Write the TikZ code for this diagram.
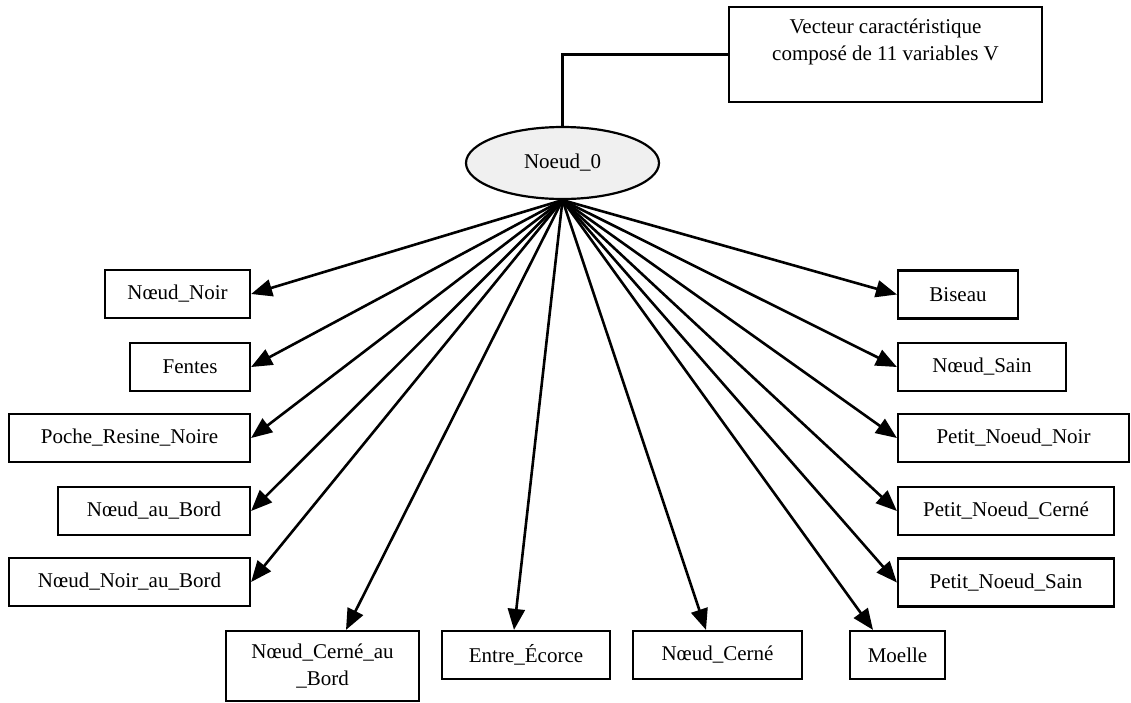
\documentclass[tikz,border=0pt]{standalone}
\usepackage{fontspec}
\setmainfont{Liberation Serif}
\usetikzlibrary{arrows.meta,shapes.geometric}
\begin{document}
\begin{tikzpicture}[x=1pt,y=-1pt,
  every node/.style={font=\fontsize{21}{27}\selectfont, inner sep=0pt},
  cat/.style={draw, line width=2.2pt, minimum height=48pt, align=center},
  root/.style={ellipse, draw, line width=2.2pt, fill=black!6,
               minimum width=193pt, minimum height=72pt},
  link/.style={line width=2.6pt, -{Triangle[length=21pt,width=17pt]}},
  plain/.style={line width=2.2pt}]
\useasboundingbox (0,0) rectangle (1131,702);

% descriptor box and root node
\node[cat, minimum width=313pt, minimum height=95pt] (vec) at (885.5,54.5)
  {Vecteur caractéristique\\composé de 11 variables V\\[2pt]~};
\node[root] (n0) at (562.5,163) {Noeud\_0};
\draw[plain] (n0.north) |- (vec.west);

% left column
\node[cat, minimum width=145pt] (nn)   at (177.5,294) {Nœud\_Noir};
\node[cat, minimum width=120pt] (fe)   at (190,367)   {Fentes};
\node[cat, minimum width=241pt] (prn)  at (129.5,438) {Poche\_Resine\_Noire};
\node[cat, minimum width=192pt] (nab)  at (154,511)   {Nœud\_au\_Bord};
\node[cat, minimum width=241pt] (nnab) at (129.5,582) {Nœud\_Noir\_au\_Bord};

% bottom row
\node[cat, minimum width=193pt, minimum height=70pt] (ncab) at (322.5,666)
  {Nœud\_Cerné\_au\\\_Bord};
\node[cat, minimum width=168pt] (ee) at (526,655)   {Entre\_Écorce};
\node[cat, minimum width=169pt] (nc) at (717.5,655) {Nœud\_Cerné};
\node[cat, minimum width=95pt]  (mo) at (897.5,655) {Moelle};

% right column
\node[cat, minimum width=120pt] (bi)  at (958,294.5) {Biseau};
\node[cat, minimum width=168pt] (ns)  at (982,367)   {Nœud\_Sain};
\node[cat, minimum width=231pt] (pnn) at (1013.5,438) {Petit\_Noeud\_Noir};
\node[cat, minimum width=216pt] (pnc) at (1006,511)  {Petit\_Noeud\_Cerné};
\node[cat, minimum width=216pt] (pns) at (1006,582.5) {Petit\_Noeud\_Sain};

% edges from the root
\foreach \t in {nn,fe,prn,nab,nnab}
  \draw[link] (n0.south) -- (\t.east);
\foreach \t in {bi,ns,pnn,pnc,pns}
  \draw[link] (n0.south) -- (\t.west);
\draw[link] (n0.south) -- ([xshift=23.5pt]ncab.north);
\draw[link] (n0.south) -- ([xshift=-12pt]ee.north);
\draw[link] (n0.south) -- ([xshift=-11.5pt]nc.north);
\draw[link] (n0.south) -- ([xshift=-24.5pt]mo.north);
\end{tikzpicture}
\end{document}
